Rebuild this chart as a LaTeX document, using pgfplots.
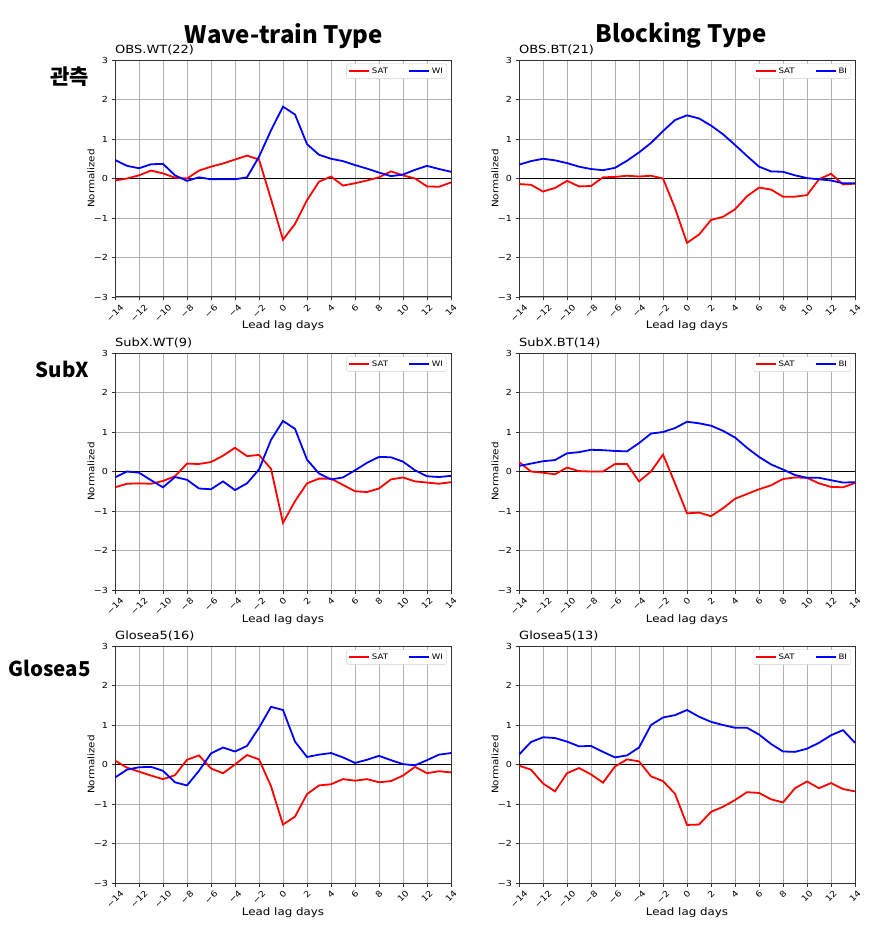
\documentclass[border=0pt]{standalone}
\usepackage{pgfplots}
\usepackage{pgfplotstable}
\pgfplotsset{compat=1.18}
\usepackage{fontspec}
\usepackage{graphicx}
\setmainfont{DejaVu Sans}[FakeStretch=1.15]
\newfontfamily\kr{Noto Sans CJK KR}

\definecolor{gridc}{RGB}{176,176,176}
\newcommand{\rl}[1]{\rotatebox{45}{#1}}

\pgfplotstableread{
x sat idx
-14 -0.05 0.47
-13 0.00 0.32
-12 0.08 0.26
-11 0.20 0.36
-10 0.13 0.37
-9 0.02 0.08
-8 0.00 -0.06
-7 0.20 0.03
-6 0.30 -0.02
-5 0.38 -0.02
-4 0.48 -0.02
-3 0.58 0.03
-2 0.48 0.55
-1 -0.52 1.22
0 -1.55 1.82
1 -1.15 1.62
2 -0.55 0.87
3 -0.08 0.60
4 0.05 0.50
5 -0.18 0.44
6 -0.12 0.34
7 -0.05 0.25
8 0.03 0.15
9 0.18 0.06
10 0.08 0.10
11 0.00 0.22
12 -0.20 0.32
13 -0.21 0.24
14 -0.10 0.17
}\obswt

\pgfplotstableread{
x sat idx
-14 -0.14 0.35
-13 -0.16 0.44
-12 -0.33 0.50
-11 -0.24 0.46
-10 -0.06 0.39
-9 -0.20 0.30
-8 -0.19 0.24
-7 0.03 0.21
-6 0.04 0.27
-5 0.07 0.45
-4 0.05 0.66
-3 0.07 0.90
-2 0.00 1.20
-1 -0.75 1.48
0 -1.63 1.60
1 -1.42 1.52
2 -1.05 1.34
3 -0.97 1.12
4 -0.78 0.85
5 -0.45 0.57
6 -0.23 0.30
7 -0.28 0.18
8 -0.46 0.17
9 -0.46 0.08
10 -0.42 0.01
11 -0.02 -0.02
12 0.12 -0.05
13 -0.15 -0.12
14 -0.13 -0.12
}\obsbt

\pgfplotstableread{
x sat idx
-14 -0.40 -0.15
-13 -0.31 0.00
-12 -0.30 -0.03
-11 -0.31 -0.22
-10 -0.24 -0.40
-9 -0.12 -0.14
-8 0.20 -0.21
-7 0.19 -0.43
-6 0.24 -0.45
-5 0.40 -0.25
-4 0.60 -0.47
-3 0.39 -0.30
-2 0.42 0.05
-1 0.07 0.80
0 -1.30 1.28
1 -0.75 1.08
2 -0.30 0.30
3 -0.18 -0.05
4 -0.18 -0.20
5 -0.34 -0.15
6 -0.50 0.03
7 -0.52 0.22
8 -0.43 0.37
9 -0.20 0.36
10 -0.15 0.25
11 -0.25 0.03
12 -0.28 -0.12
13 -0.31 -0.14
14 -0.27 -0.11
}\subxwt

\pgfplotstableread{
x sat idx
-14 0.24 0.14
-13 0.00 0.20
-12 -0.03 0.26
-11 -0.07 0.29
-10 0.10 0.46
-9 0.01 0.49
-8 0.00 0.55
-7 0.00 0.54
-6 0.19 0.52
-5 0.19 0.51
-4 -0.25 0.72
-3 0.00 0.96
-2 0.43 1.00
-1 -0.30 1.10
0 -1.06 1.26
1 -1.04 1.22
2 -1.13 1.16
3 -0.93 1.03
4 -0.69 0.86
5 -0.57 0.60
6 -0.45 0.37
7 -0.35 0.18
8 -0.19 0.05
9 -0.15 -0.09
10 -0.16 -0.16
11 -0.30 -0.16
12 -0.39 -0.22
13 -0.40 -0.28
14 -0.29 -0.27
}\subxbt

\pgfplotstableread{
x sat idx
-14 0.10 -0.33
-13 -0.08 -0.13
-12 -0.18 -0.07
-11 -0.28 -0.06
-10 -0.37 -0.16
-9 -0.27 -0.45
-8 0.12 -0.53
-7 0.23 -0.16
-6 -0.10 0.28
-5 -0.22 0.43
-4 0.00 0.33
-3 0.24 0.47
-2 0.13 0.93
-1 -0.55 1.46
0 -1.52 1.38
1 -1.32 0.58
2 -0.75 0.19
3 -0.53 0.25
4 -0.50 0.29
5 -0.37 0.18
6 -0.41 0.04
7 -0.37 0.12
8 -0.45 0.22
9 -0.42 0.11
10 -0.28 0.01
11 -0.06 -0.02
12 -0.22 0.11
13 -0.17 0.25
14 -0.20 0.29
}\glowt

\pgfplotstableread{
x sat idx
-14 -0.03 0.25
-13 -0.13 0.57
-12 -0.48 0.69
-11 -0.68 0.67
-10 -0.22 0.58
-9 -0.09 0.46
-8 -0.25 0.47
-7 -0.46 0.32
-6 -0.05 0.18
-5 0.13 0.23
-4 0.08 0.43
-3 -0.30 1.00
-2 -0.42 1.19
-1 -0.74 1.25
0 -1.53 1.38
1 -1.52 1.21
2 -1.20 1.08
3 -1.07 1.00
4 -0.90 0.93
5 -0.70 0.93
6 -0.72 0.76
7 -0.88 0.52
8 -0.96 0.33
9 -0.60 0.32
10 -0.43 0.40
11 -0.60 0.55
12 -0.47 0.74
13 -0.62 0.87
14 -0.68 0.55
}\globt

\pgfplotsset{
  panel/.style={
    scale only axis, width=336pt, height=237pt,
    anchor=north west,
    xmin=-14, xmax=14, ymin=-3, ymax=3,
    xtick={-14,-12,...,14},
    xticklabels={\rl{−14},\rl{−12},\rl{−10},\rl{−8},\rl{−6},\rl{−4},\rl{−2},\rl{0},\rl{2},\rl{4},\rl{6},\rl{8},\rl{10},\rl{12},\rl{14}},
    ytick={-3,...,3},
    yticklabels={−3,−2,−1,0,1,2,3},
    tick align=outside, tick pos=left,
    major tick length=3.5pt,
    tick style={black!80, line width=0.8pt},
    grid=major, grid style={gridc, line width=0.9pt},
    axis line style={black!80, line width=1pt},
    tick label style={font=\fontsize{8.3}{9}\selectfont},
    xticklabel style={anchor=north, inner sep=0.5pt, yshift=-2.5pt},
    xlabel={Lead lag days}, ylabel={Normalized},
    every axis x label/.style={at={(rel axis cs:0.5,0)}, anchor=base, inner sep=0pt, yshift=-32pt, font=\fontsize{10.3}{12}\selectfont},
    every axis y label/.style={at={(rel axis cs:0,0.5)}, anchor=center, inner sep=0pt, xshift=-24pt, rotate=90, font=\fontsize{9}{11}\selectfont},
    title style={at={(rel axis cs:0,1)}, anchor=base west, inner sep=0pt, yshift=1pt, font=\fontsize{11.3}{13}\selectfont},
    legend columns=2,
    legend style={at={(rel axis cs:0.988,0.985)}, anchor=north east, draw=black!18, rounded corners=1.5pt,
      font=\fontsize{7.5}{8.5}\selectfont, inner sep=1.8pt,
      /tikz/every even column/.append style={column sep=18pt}},
    legend image code/.code={\draw[#1] (0pt,0pt) -- (20pt,0pt);},
  },
  zero/.style={black, line width=1pt, forget plot},
  sat/.style={red, line width=1.8pt},
  idx/.style={blue, line width=1.8pt},
}

\begin{document}
\begin{tikzpicture}
\useasboundingbox (0pt,0pt) rectangle (884pt,-929pt);

\node[anchor=base, inner sep=0pt, font=\kr\bfseries\fontsize{24}{28}\selectfont] at (284pt,-43pt) {Wave-train Type};
\node[anchor=base, inner sep=0pt, font=\kr\bfseries\fontsize{24}{28}\selectfont] at (681pt,-42pt) {Blocking Type};
\node[anchor=base east, inner sep=0pt, font=\kr\bfseries\fontsize{21}{25}\selectfont] at (89pt,-84pt) {관측};
\node[anchor=base east, inner sep=0pt, font=\kr\bfseries\fontsize{20.5}{25}\selectfont] at (89pt,-377pt) {SubX};
\node[anchor=base east, inner sep=0pt, font=\kr\bfseries\fontsize{20.5}{25}\selectfont] at (91pt,-676pt) {Glosea5};

\begin{axis}[panel, at={(115pt,-60pt)}, title={OBS.WT(22)}]
\addplot[zero] coordinates {(-14,0) (14,0)};
\addplot[sat] table[x=x,y=sat] {\obswt}; \addlegendentry{SAT}
\addplot[idx] table[x=x,y=idx] {\obswt}; \addlegendentry{WI}
\end{axis}

\begin{axis}[panel, at={(519pt,-60pt)}, title={OBS.BT(21)}]
\addplot[zero] coordinates {(-14,0) (14,0)};
\addplot[sat] table[x=x,y=sat] {\obsbt}; \addlegendentry{SAT}
\addplot[idx] table[x=x,y=idx] {\obsbt}; \addlegendentry{BI}
\end{axis}

\begin{axis}[panel, at={(115pt,-353pt)}, title={SubX.WT(9)}]
\addplot[zero] coordinates {(-14,0) (14,0)};
\addplot[sat] table[x=x,y=sat] {\subxwt}; \addlegendentry{SAT}
\addplot[idx] table[x=x,y=idx] {\subxwt}; \addlegendentry{WI}
\end{axis}

\begin{axis}[panel, at={(519pt,-353pt)}, title={SubX.BT(14)}]
\addplot[zero] coordinates {(-14,0) (14,0)};
\addplot[sat] table[x=x,y=sat] {\subxbt}; \addlegendentry{SAT}
\addplot[idx] table[x=x,y=idx] {\subxbt}; \addlegendentry{BI}
\end{axis}

\begin{axis}[panel, at={(115pt,-646pt)}, title={Glosea5(16)}]
\addplot[zero] coordinates {(-14,0) (14,0)};
\addplot[sat] table[x=x,y=sat] {\glowt}; \addlegendentry{SAT}
\addplot[idx] table[x=x,y=idx] {\glowt}; \addlegendentry{WI}
\end{axis}

\begin{axis}[panel, at={(519pt,-646pt)}, title={Glosea5(13)}]
\addplot[zero] coordinates {(-14,0) (14,0)};
\addplot[sat] table[x=x,y=sat] {\globt}; \addlegendentry{SAT}
\addplot[idx] table[x=x,y=idx] {\globt}; \addlegendentry{BI}
\end{axis}
\end{tikzpicture}
\end{document}
